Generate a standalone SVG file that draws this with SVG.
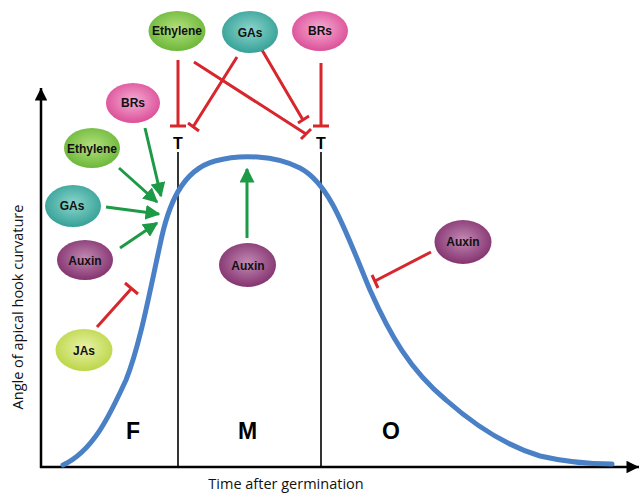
<svg xmlns="http://www.w3.org/2000/svg" width="641" height="493" viewBox="0 0 641 493">
<defs>
<radialGradient id="gGreen" cx="50%" cy="45%" r="55%"><stop offset="0" stop-color="#b6e07e"/><stop offset="1" stop-color="#6cb83a"/></radialGradient>
<radialGradient id="gTeal" cx="50%" cy="45%" r="55%"><stop offset="0" stop-color="#8cd6cc"/><stop offset="1" stop-color="#36a198"/></radialGradient>
<radialGradient id="gPink" cx="50%" cy="45%" r="55%"><stop offset="0" stop-color="#f4aed4"/><stop offset="1" stop-color="#dc4f98"/></radialGradient>
<radialGradient id="gPurple" cx="50%" cy="45%" r="55%"><stop offset="0" stop-color="#c28ab4"/><stop offset="1" stop-color="#84336f"/></radialGradient>
<radialGradient id="gYellow" cx="50%" cy="45%" r="55%"><stop offset="0" stop-color="#e9f3a8"/><stop offset="1" stop-color="#bcd64a"/></radialGradient>
<marker id="ga" viewBox="0 0 10 10" refX="9" refY="5" markerWidth="5" markerHeight="5" markerUnits="strokeWidth" orient="auto"><path d="M0,0 L10,5 L0,10 z" fill="#1c9a46"/></marker>
<marker id="ka" viewBox="0 0 10 10" refX="10" refY="5" markerWidth="6" markerHeight="5" markerUnits="strokeWidth" orient="auto"><path d="M0,0 L10,5 L0,10 z" fill="#000"/></marker>
</defs>
<style>
.lbl{font-family:"Liberation Sans",Arial,sans-serif;font-weight:bold;font-size:12px;fill:#111;text-anchor:middle;dominant-baseline:central}
.big{font-family:"Liberation Sans",Arial,sans-serif;font-weight:bold;font-size:23px;fill:#000;text-anchor:middle}
.tt{font-family:"Liberation Sans",Arial,sans-serif;font-weight:bold;font-size:16px;fill:#000;text-anchor:middle}
.ax{font-family:"Open Sans","Liberation Sans",sans-serif;font-size:14.5px;fill:#111;text-anchor:middle}
.act{stroke:#1c9a46;stroke-width:3;fill:none;marker-end:url(#ga)}
.inh{stroke:#d7262c;stroke-width:3;fill:none}
.axis{stroke:#000;stroke-width:2.5;fill:none}
.div{stroke:#000;stroke-width:1.6}
</style>
<rect width="641" height="493" fill="#fff"/>
<g id="axes">
<line class="axis" x1="41" y1="468" x2="41" y2="88" marker-end="url(#ka)"/>
<line class="axis" x1="40" y1="467" x2="639" y2="467" marker-end="url(#ka)"/>
<line class="div" x1="178" y1="152" x2="178" y2="467"/>
<line class="div" x1="321" y1="152" x2="321" y2="467"/>
<text class="ax" x="286" y="489">Time after germination</text>
<text class="ax" transform="translate(23,307) rotate(-90)">Angle of apical hook curvature</text>
<text class="big" x="133" y="439">F</text>
<text class="big" x="247.5" y="439">M</text>
<text class="big" x="391" y="439">O</text>
<text class="tt" x="178" y="149">T</text>
<text class="tt" x="321" y="149">T</text>
</g>
<g id="curve">
<path d="M63 465 C95 450 112 410 126 380 C140 345 150 290 160 245 C168 205 182 170 215 161 C240 154 275 155 300 168 C330 184 345 230 370 290 C390 335 410 370 446 400 C480 430 510 447 540 456 C570 463 595 464 612 464" fill="none" stroke="#4a80c6" stroke-width="5" stroke-linecap="round"/>
</g>
<g id="connectors">
<line class="act" x1="145" y1="128" x2="161" y2="196"/>
<line class="act" x1="119" y1="168" x2="157" y2="202"/>
<line class="act" x1="106" y1="207" x2="159" y2="214"/>
<line class="act" x1="120" y1="248" x2="157" y2="223"/>
<line class="act" x1="247" y1="238" x2="247" y2="169"/>
<path class="inh" d="M97 327 L131 289 M125 283 L138 294"/>
<path class="inh" d="M431 252 L375 281 M372 275 L378 288"/>
<path class="inh" d="M178 60 L178 126 M170 126 L186 126"/>
<path class="inh" d="M321 63 L321 126 M313 126 L329 126"/>
<path class="inh" d="M237 57 L193 127 M188 123 L199 131"/>
<path class="inh" d="M262 50 L303 120 M298 123 L309 116"/>
<path class="inh" d="M194 62 L306 134 M301 139 L311 129"/>
</g>
<g id="n-ethylene-top"><ellipse cx="177" cy="31" rx="28.5" ry="20" fill="url(#gGreen)"/><text class="lbl" x="177" y="31">Ethylene</text></g>
<g id="n-gas-top"><ellipse cx="250" cy="32" rx="28" ry="21" fill="url(#gTeal)"/><text class="lbl" x="250" y="33">GAs</text></g>
<g id="n-brs-top"><ellipse cx="320" cy="31" rx="28" ry="20" fill="url(#gPink)"/><text class="lbl" x="320" y="31">BRs</text></g>
<g id="n-brs-left"><ellipse cx="133" cy="103" rx="27" ry="20" fill="url(#gPink)"/><text class="lbl" x="133" y="103">BRs</text></g>
<g id="n-ethylene-left"><ellipse cx="92" cy="148" rx="28" ry="20" fill="url(#gGreen)"/><text class="lbl" x="92" y="149">Ethylene</text></g>
<g id="n-gas-left"><ellipse cx="73" cy="206" rx="28" ry="21" fill="url(#gTeal)"/><text class="lbl" x="72" y="206">GAs</text></g>
<g id="n-auxin-left"><ellipse cx="85" cy="260" rx="28" ry="20" fill="url(#gPurple)"/><text class="lbl" x="85" y="261">Auxin</text></g>
<g id="n-jas"><ellipse cx="84" cy="350" rx="28.5" ry="21" fill="url(#gYellow)"/><text class="lbl" x="84" y="351">JAs</text></g>
<g id="n-auxin-mid"><ellipse cx="247.5" cy="265" rx="28.5" ry="22" fill="url(#gPurple)"/><text class="lbl" x="248" y="266">Auxin</text></g>
<g id="n-auxin-right"><ellipse cx="463" cy="242" rx="28.5" ry="22" fill="url(#gPurple)"/><text class="lbl" x="463" y="242">Auxin</text></g>
</svg>
